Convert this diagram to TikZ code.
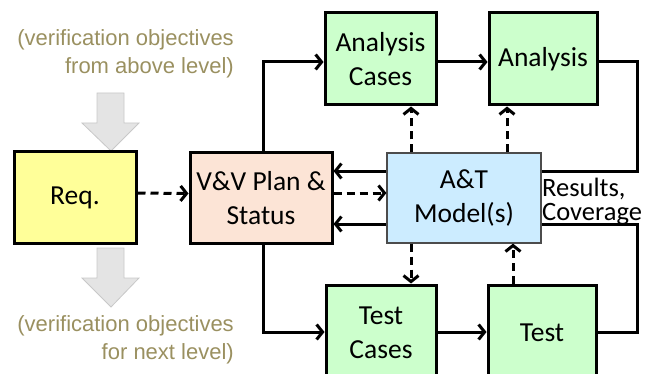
\documentclass[tikz,border=0pt]{standalone}
\usepackage{fontspec}
\setmainfont{Carlito}
\newfontfamily\grayfont{Liberation Sans}
\usetikzlibrary{arrows.meta,backgrounds}
\definecolor{reqY}{HTML}{FFFF99}
\definecolor{vvP}{HTML}{FCE4D6}
\definecolor{atB}{HTML}{CCECFF}
\definecolor{grG}{HTML}{CCFFCC}
\definecolor{olive}{HTML}{9A9060}
\definecolor{arrF}{HTML}{E4E4E4}
\definecolor{arrD}{HTML}{C8C8C8}
\tikzset{
  box/.style={draw=black, line width=3pt, minimum width=#1, align=center, inner sep=0pt,
    font=\fontsize{27.5}{34}\selectfont},
  conn/.style={line width=3pt, -{Straight Barb[length=6pt,width=15pt]}},
  dconn/.style={conn, dash pattern=on 8pt off 5pt},
  graytxt/.style={font=\grayfont\fontsize{22}{28}\selectfont, text=olive, align=right, inner sep=0pt},
  blockarrow/.style={fill=arrF, draw=arrD, line width=0.8pt},
  restxt/.style={inner sep=0pt, anchor=base west, font=\fontsize{26.5}{25}\selectfont},
}
\begin{document}
\begin{tikzpicture}[x=1pt,y=-1pt]
\useasboundingbox (0,0) rectangle (660,374);
% gray block arrows
\draw[blockarrow] (97,93) -- (124,93) -- (124,123) -- (139,123) -- (111,151) -- (82,123) -- (97,123) -- cycle;
\draw[blockarrow] (97,248) -- (124,248) -- (124,278) -- (139,278) -- (111,307) -- (82,278) -- (97,278) -- cycle;
% gray texts
\node[graytxt, anchor=east] (topt) at (234,54) {(verification objectives\\from above level)};
\node[graytxt, anchor=east] (bott) at (234,340) {(verification objectives\\for next level)};
% boxes
\node[box=122pt, minimum height=91pt, fill=reqY] (req) at (75,197.5) {Req.};
\node[box=142pt, minimum height=90pt, fill=vvP] (vv) at (261,198) {V\&V Plan \&\\Status};
\node[box=154pt, minimum height=90pt, fill=atB, draw=black!70, line width=1.2pt] (at) at (464,198) {A\&T\\Model(s)};
\node[box=111pt, minimum height=92pt, fill=grG] (ac) at (380.5,59) {Analysis\\Cases};
\node[box=108pt, minimum height=92pt, fill=grG] (an) at (543,59) {Analysis};
\node[box=110pt, minimum height=96pt, fill=grG] (tc) at (381,333) {Test\\Cases};
\node[box=108pt, minimum height=96pt, fill=grG] (tt) at (542,333) {Test};
\node[restxt] (res1) at (542,196) {Results,};
\node[restxt] (res2) at (542,220) {Coverage};
% helper coordinates
\coordinate (r1) at (637,171);
\coordinate (r2) at (637,224);
\coordinate (d1) at (411,0);
\coordinate (d2) at (507,0);
\coordinate (d3) at (513,0);
\coordinate (v1) at (263,0);
% connectors
\begin{scope}[on background layer]
\draw[conn] ([yshift=-3pt]an.east) -| (r1) -- (vv.east |- r1);
\draw[conn] ([yshift=1pt]tt.east) -| (r2) -- (vv.east |- r2);
\end{scope}
\draw[dconn] ([yshift=4.5pt]req.east) -- ([yshift=4.5pt]vv.west);
\draw[dconn] ([yshift=5pt]vv.east) -- ([yshift=5pt]at.west);
\draw[conn] (v1 |- vv.north) |- ([yshift=-3pt]ac.west);
\draw[conn] (v1 |- vv.south) |- ([yshift=1pt]tc.west);
\draw[conn] ([yshift=-3pt]ac.east) -- ([yshift=-3pt]an.west);
\draw[conn] ([yshift=1pt]tc.east) -- ([yshift=1pt]tt.west);
\draw[dconn] (d1 |- at.north) -- (d1 |- ac.south);
\draw[dconn] (d2 |- at.north) -- (d2 |- an.south);
\draw[dconn] (d1 |- at.south) -- (d1 |- tc.north);
\draw[dconn] (d3 |- tt.north) -- (d3 |- at.south);
\end{tikzpicture}
\end{document}
